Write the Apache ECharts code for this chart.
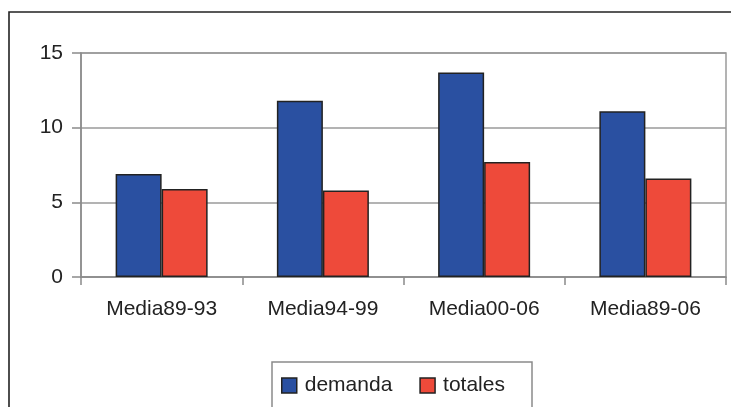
<!DOCTYPE html>
<html>
<head>
<meta charset="utf-8">
<script src="https://cdn.jsdelivr.net/npm/echarts@6/dist/echarts.min.js"></script>
<style>
  html, body { margin: 0; padding: 0; background: #fff; }
  #chart { width: 731px; height: 407px; }
</style>
</head>
<body>
<div id="chart"></div>
<script>
// Periods on the category axis
const categories = ['Media89-93', 'Media94-99', 'Media00-06', 'Media89-06'];
// Series values
const demanda = [6.9, 11.8, 13.7, 11.1];
const totales = [5.9, 5.8, 7.7, 6.6];
// Value axis settings
const yMin = 0;
const yMax = 15;
const yStep = 5;

const FONT = '"Liberation Sans", Arial, sans-serif';
const TEXT = '#222';
const AXIS = '#8a8a8a';

const chart = echarts.init(document.getElementById('chart'), null, { renderer: 'canvas' });

chart.setOption({
  animation: false,
  backgroundColor: '#fff',
  textStyle: { fontFamily: FONT },
  graphic: [
    // outer frame (runs off the right and bottom edges)
    {
      type: 'rect', z: 0,
      shape: { x: 9, y: 12, width: 800, height: 430 },
      style: { fill: 'none', stroke: '#222', lineWidth: 1.6 }
    },
    // legend box
    {
      type: 'rect', z: 0,
      shape: { x: 272, y: 362, width: 260, height: 60 },
      style: { fill: 'none', stroke: '#8a8a8a', lineWidth: 1.5 }
    }
  ],
  grid: {
    left: 81, right: 5, top: 53, bottom: 130,
    show: true, borderColor: '#9a9a9a', borderWidth: 1.5, backgroundColor: 'transparent'
  },
  legend: {
    left: 276, top: 370,
    itemWidth: 15, itemHeight: 15, itemGap: 27,
    icon: 'rect',
    textStyle: { fontSize: 21, color: TEXT, fontFamily: FONT, padding: [0, 0, 0, 3] },
    itemStyle: { borderColor: '#222', borderWidth: 1.5 },
    data: ['demanda', 'totales']
  },
  xAxis: {
    type: 'category',
    data: categories,
    axisLine: { lineStyle: { color: AXIS, width: 1.5 } },
    axisTick: { show: true, length: 8, alignWithLabel: false, lineStyle: { color: AXIS, width: 1.5 } },
    axisLabel: { fontSize: 21, color: TEXT, fontFamily: FONT, margin: 22 },
    splitLine: { show: false }
  },
  yAxis: {
    type: 'value',
    min: yMin, max: yMax, interval: yStep,
    axisLine: { show: true, lineStyle: { color: AXIS, width: 1.5 } },
    axisTick: { show: true, length: 9, lineStyle: { color: AXIS, width: 1.5 } },
    axisLabel: { fontSize: 21, color: TEXT, fontFamily: FONT, margin: 18 },
    splitLine: { show: true, lineStyle: { color: '#9a9a9a', width: 1.5 } }
  },
  series: [
    {
      name: 'demanda', type: 'bar', data: demanda,
      barWidth: 46, barGap: '0%',
      itemStyle: { color: '#2A50A1', borderColor: '#222', borderWidth: 1.5 }
    },
    {
      name: 'totales', type: 'bar', data: totales,
      barWidth: 46,
      itemStyle: { color: '#EE4A3A', borderColor: '#222', borderWidth: 1.5 }
    }
  ]
});
</script>
</body>
</html>
